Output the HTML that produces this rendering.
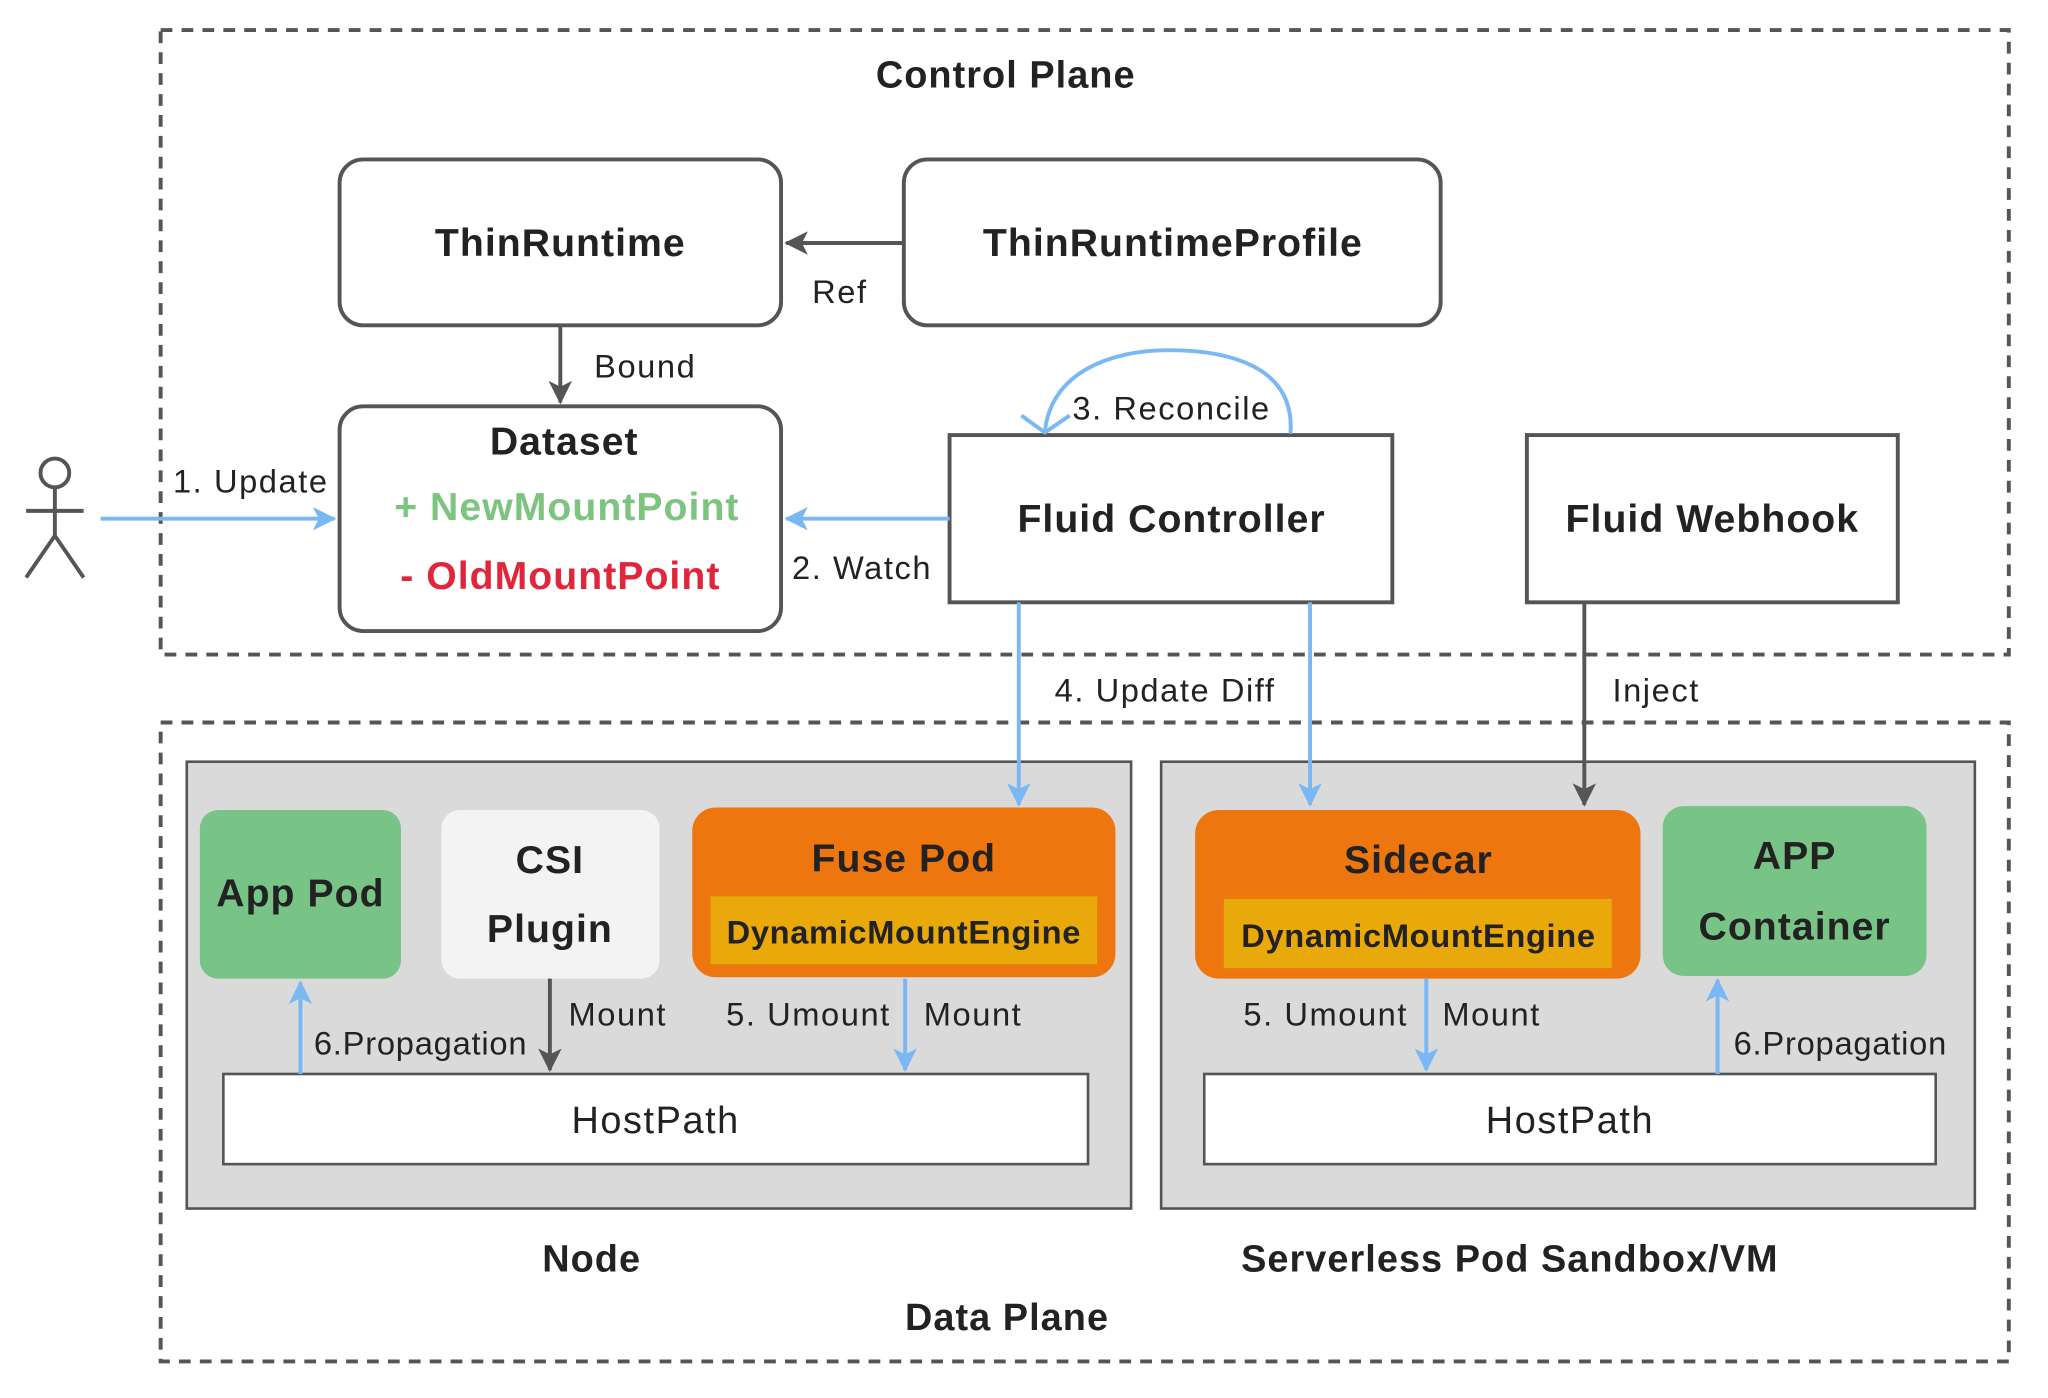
<!DOCTYPE html>
<html><head><meta charset="utf-8"><style>
html,body{margin:0;padding:0;background:#fff;}
svg{display:block;}
text{font-family:"Liberation Sans",sans-serif;fill:#222;}
.b{font-weight:bold;letter-spacing:0.8px;}
.r{letter-spacing:1.2px;}
</style></head><body>
<svg width="2048" height="1398" viewBox="0 0 1568 1070" preserveAspectRatio="none" xmlns="http://www.w3.org/2000/svg">
<defs>
<marker id="abig" viewBox="0 0 12 12" refX="11" refY="6" markerWidth="18" markerHeight="18" markerUnits="userSpaceOnUse" orient="auto"><path d="M0,0 L12,6 L0,12 L3,6 z" fill="#7ab8f5"/></marker>
<marker id="agbig" viewBox="0 0 12 12" refX="11" refY="6" markerWidth="18" markerHeight="18" markerUnits="userSpaceOnUse" orient="auto"><path d="M0,0 L12,6 L0,12 L3,6 z" fill="#555"/></marker>
</defs>
<rect x="123" y="23" width="1415" height="478" fill="none" stroke="#555" stroke-width="3" stroke-dasharray="9,7"/>
<rect x="123" y="553" width="1415" height="489" fill="none" stroke="#555" stroke-width="3" stroke-dasharray="9,7"/>
<text x="770" y="67" font-size="29" class="b" text-anchor="middle">Control Plane</text>

<rect x="260" y="122" width="338" height="127" rx="18" fill="#fff" stroke="#555" stroke-width="3"/>
<text x="429" y="196" font-size="30" class="b" text-anchor="middle">ThinRuntime</text>
<rect x="692" y="122" width="411" height="127" rx="18" fill="#fff" stroke="#555" stroke-width="3"/>
<text x="898" y="196" font-size="30" class="b" text-anchor="middle">ThinRuntimeProfile</text>
<line x1="692" y1="186" x2="602" y2="186" stroke="#555" stroke-width="3" marker-end="url(#agbig)"/>
<text x="643" y="232" font-size="25" class="r" text-anchor="middle">Ref</text>
<line x1="429" y1="249" x2="429" y2="308" stroke="#555" stroke-width="3" marker-end="url(#agbig)"/>
<text x="494" y="289" font-size="25" class="r" text-anchor="middle">Bound</text>

<rect x="260" y="311" width="338" height="172" rx="18" fill="#fff" stroke="#555" stroke-width="3"/>
<text x="432" y="348" font-size="30" class="b" text-anchor="middle">Dataset</text>
<text x="434" y="398" font-size="30" class="b" text-anchor="middle" style="fill:#7cc47f">+ NewMountPoint</text>
<text x="429" y="451" font-size="30" class="b" text-anchor="middle" style="fill:#e0263a">- OldMountPoint</text>

<g stroke="#555" stroke-width="3" fill="none">
<circle cx="42" cy="362" r="11"/>
<line x1="42" y1="373" x2="42" y2="410"/>
<line x1="20" y1="391" x2="64" y2="391"/>
<line x1="42" y1="410" x2="20" y2="442"/>
<line x1="42" y1="410" x2="64" y2="442"/>
</g>
<line x1="77" y1="397" x2="256" y2="397" stroke="#7ab8f5" stroke-width="3" marker-end="url(#abig)"/>
<text x="192" y="377" font-size="25" class="r" text-anchor="middle">1. Update</text>

<rect x="727" y="333" width="339" height="128" fill="#fff" stroke="#555" stroke-width="3"/>
<text x="897" y="407" font-size="30" class="b" text-anchor="middle">Fluid Controller</text>
<line x1="727" y1="397" x2="602" y2="397" stroke="#7ab8f5" stroke-width="3" marker-end="url(#abig)"/>
<text x="660" y="443" font-size="25" class="r" text-anchor="middle">2. Watch</text>

<path d="M988,332 C992,280 940,268 895,268 C850,268 805,285 800,330" fill="none" stroke="#7ab8f5" stroke-width="3"/>
<polyline points="782,318 800,331 819,318" fill="none" stroke="#7ab8f5" stroke-width="3"/>
<text x="897" y="321" font-size="25" class="r" text-anchor="middle">3. Reconcile</text>

<rect x="1169" y="333" width="284" height="128" fill="#fff" stroke="#555" stroke-width="3"/>
<text x="1311" y="407" font-size="30" class="b" text-anchor="middle">Fluid Webhook</text>

<rect x="143" y="583" width="723" height="342" fill="#d9dad9" stroke="#555" stroke-width="2"/>
<rect x="889" y="583" width="623" height="342" fill="#d9dad9" stroke="#555" stroke-width="2"/>

<line x1="780" y1="461" x2="780" y2="616" stroke="#7ab8f5" stroke-width="3" marker-end="url(#abig)"/>
<line x1="1003" y1="461" x2="1003" y2="616" stroke="#7ab8f5" stroke-width="3" marker-end="url(#abig)"/>
<text x="892" y="537" font-size="25" class="r" text-anchor="middle">4. Update Diff</text>
<line x1="1213" y1="461" x2="1213" y2="616" stroke="#555" stroke-width="3" marker-end="url(#agbig)"/>
<text x="1268" y="537" font-size="25" class="r" text-anchor="middle">Inject</text>

<rect x="153" y="620" width="154" height="129" rx="14" fill="#77c486"/>
<text x="230" y="694" font-size="30" class="b" text-anchor="middle">App Pod</text>
<rect x="338" y="620" width="167" height="129" rx="14" fill="#f2f3f2"/>
<text x="421" y="668" font-size="30" class="b" text-anchor="middle">CSI</text>
<text x="421" y="721" font-size="30" class="b" text-anchor="middle">Plugin</text>
<rect x="530" y="618" width="324" height="130" rx="18" fill="#ed760f"/>
<text x="692" y="667" font-size="30" class="b" text-anchor="middle">Fuse Pod</text>
<rect x="544" y="686" width="296" height="52" fill="#eaa90a"/>
<text x="692" y="722" font-size="25" class="b" text-anchor="middle" style="letter-spacing:0.5px">DynamicMountEngine</text>

<rect x="171" y="822" width="662" height="69" fill="#fff" stroke="#555" stroke-width="2"/>
<text x="502" y="867" font-size="29" class="r" text-anchor="middle">HostPath</text>
<line x1="230" y1="822" x2="230" y2="752" stroke="#7ab8f5" stroke-width="3" marker-end="url(#abig)"/>
<text x="322" y="807" font-size="25" text-anchor="middle" style="letter-spacing:0.6px">6.Propagation</text>
<line x1="421" y1="749" x2="421" y2="819" stroke="#555" stroke-width="3" marker-end="url(#agbig)"/>
<text x="473" y="785" font-size="25" class="r" text-anchor="middle">Mount</text>
<line x1="693" y1="749" x2="693" y2="819" stroke="#7ab8f5" stroke-width="3" marker-end="url(#abig)"/>
<text x="619" y="785" font-size="25" class="r" text-anchor="middle">5. Umount</text>
<text x="745" y="785" font-size="25" class="r" text-anchor="middle">Mount</text>

<rect x="915" y="620" width="341" height="129" rx="18" fill="#ed760f"/>
<text x="1086" y="668" font-size="30" class="b" text-anchor="middle">Sidecar</text>
<rect x="937" y="688" width="297" height="53" fill="#eaa90a"/>
<text x="1086" y="725" font-size="25" class="b" text-anchor="middle" style="letter-spacing:0.5px">DynamicMountEngine</text>
<rect x="1273" y="617" width="202" height="130" rx="16" fill="#77c486"/>
<text x="1374" y="665" font-size="30" class="b" text-anchor="middle">APP</text>
<text x="1374" y="719" font-size="30" class="b" text-anchor="middle">Container</text>

<rect x="922" y="822" width="560" height="69" fill="#fff" stroke="#555" stroke-width="2"/>
<text x="1202" y="867" font-size="29" class="r" text-anchor="middle">HostPath</text>
<line x1="1092" y1="749" x2="1092" y2="819" stroke="#7ab8f5" stroke-width="3" marker-end="url(#abig)"/>
<text x="1015" y="785" font-size="25" class="r" text-anchor="middle">5. Umount</text>
<text x="1142" y="785" font-size="25" class="r" text-anchor="middle">Mount</text>
<line x1="1315" y1="822" x2="1315" y2="750" stroke="#7ab8f5" stroke-width="3" marker-end="url(#abig)"/>
<text x="1409" y="807" font-size="25" text-anchor="middle" style="letter-spacing:0.6px">6.Propagation</text>

<text x="453" y="973" font-size="29" class="b" text-anchor="middle">Node</text>
<text x="1156" y="973" font-size="29" class="b" text-anchor="middle">Serverless Pod Sandbox/VM</text>
<text x="771" y="1018" font-size="29" class="b" text-anchor="middle">Data Plane</text>
</svg>
</body></html>
